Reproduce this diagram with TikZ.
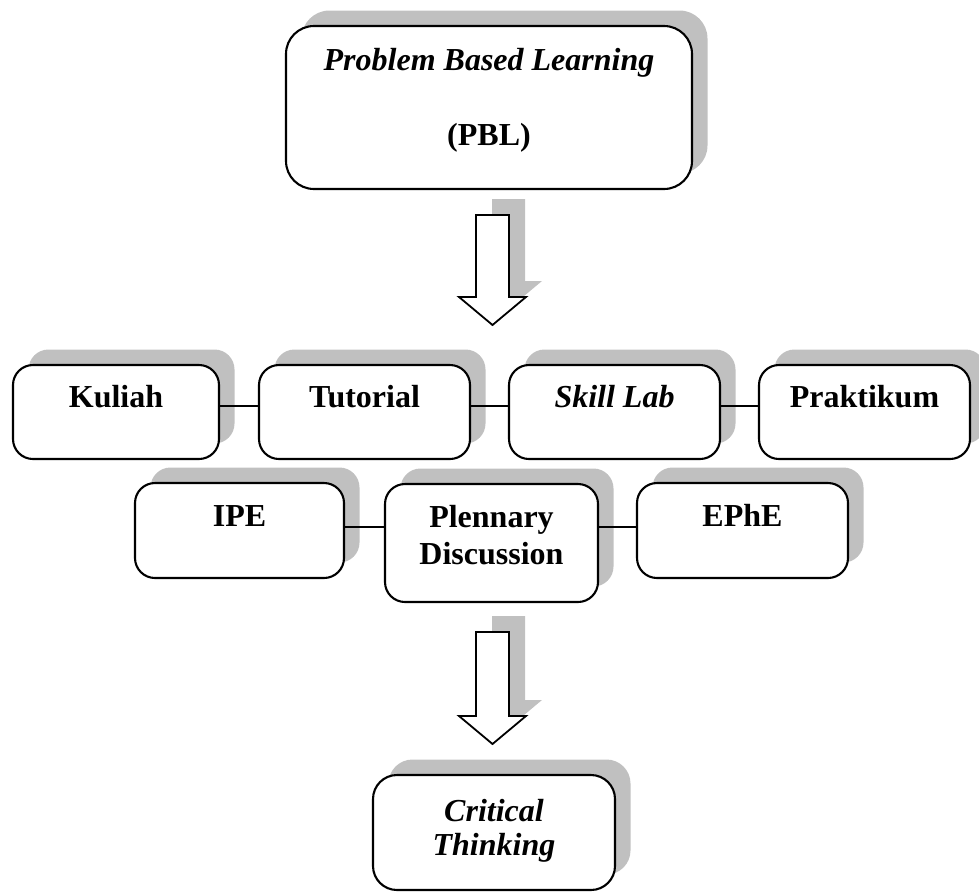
\documentclass[tikz,border=0pt]{standalone}
\usepackage{fontspec}
\setmainfont{Liberation Serif}
\usetikzlibrary{shadows}
\definecolor{shgray}{RGB}{192,192,192}
\tikzset{
  box/.style={draw=black, line width=2.1pt, fill=white, rounded corners=20pt,
    inner sep=0pt,
    drop shadow={shadow xshift=15.5pt, shadow yshift=15.5pt, fill=shgray, opacity=1}},
  lbl/.style={anchor=base, inner sep=0pt, font=\fontsize{32}{38}\selectfont\bfseries},
  ilbl/.style={lbl, font=\fontsize{32}{38}\selectfont\bfseries\itshape},
  link/.style={draw=black, line width=2.1pt},
  pics/barrow/.style={code={
    \fill[shgray, xshift=16pt, yshift=16pt]
      (-16.5,0) -- (16.5,0) -- (16.5,#1) -- (33.5,#1) -- (0,#1+28) -- (-33.5,#1) -- (-16.5,#1) -- cycle;
    \draw[line width=1.8pt, fill=white, line join=miter]
      (-16.5,0) -- (16.5,0) -- (16.5,#1) -- (33.5,#1) -- (0,#1+28) -- (-33.5,#1) -- (-16.5,#1) -- cycle;
  }}
}
\begin{document}
\begin{tikzpicture}[x=1pt, y=-1pt]
\useasboundingbox (0,0) rectangle (979,892);
\clip (0,0) rectangle (979,892);

% top box
\node[box, rounded corners=28pt, minimum width=406pt, minimum height=163pt] (pbl) at (489,107.5) {};
\node[ilbl] (pblt1) at ([yshift=-46pt]pbl.north) {Problem Based Learning};
\node[lbl] (pblt2) at ([yshift=-121pt]pbl.north) {(PBL)};

% arrow 1
\pic at (492.5,215) {barrow=82};

% row 1
\node[box, minimum width=206pt, minimum height=94pt] (kul) at (116,412) {};
\node[box, minimum width=211pt, minimum height=94pt] (tut) at (364.5,412) {};
\node[box, minimum width=211pt, minimum height=94pt] (skl) at (614.5,412) {};
\node[box, minimum width=211pt, minimum height=94pt] (prk) at (864.5,412) {};
\node[lbl] (kult) at ([yshift=-44pt]kul.north) {Kuliah};
\node[lbl] (tutt) at ([yshift=-44pt]tut.north) {Tutorial};
\node[ilbl] (sklt) at ([yshift=-44pt]skl.north) {Skill Lab};
\node[lbl] (prkt) at ([yshift=-44pt]prk.north) {Praktikum};
\draw[link] ([yshift=6pt]kul.east) -- ([yshift=6pt]tut.west);
\draw[link] ([yshift=6pt]tut.east) -- ([yshift=6pt]skl.west);
\draw[link] ([yshift=6pt]skl.east) -- ([yshift=6pt]prk.west);

% row 2
\node[box, minimum width=209pt, minimum height=95pt] (ipe) at (239.5,530.5) {};
\node[box, minimum width=213pt, minimum height=118pt] (pd) at (491.5,543) {};
\node[box, minimum width=211pt, minimum height=95pt] (ephe) at (742.5,530.5) {};
\node[lbl] (ipet) at ([yshift=-45pt]ipe.north) {IPE};
\node[lbl] (pdt1) at ([yshift=-45pt]pd.north) {Plennary};
\node[lbl] (pdt2) at ([yshift=-82pt]pd.north) {Discussion};
\node[lbl] (ephet) at ([yshift=-45pt]ephe.north) {EPhE};
\draw[link] ([yshift=3.5pt]ipe.east) -- ([yshift=3.5pt]ipe.east -| pd.west);
\draw[link] ([yshift=3.5pt]ephe.west) -- ([yshift=3.5pt]ephe.west -| pd.east);

% arrow 2
\pic at (492.5,632) {barrow=84};

% bottom box
\node[box, rounded corners=24pt, minimum width=242pt, minimum height=115pt] (ct) at (494,832.5) {};
\node[ilbl] (ctt1) at ([yshift=-48pt]ct.north) {Critical};
\node[ilbl] (ctt2) at ([yshift=-82pt]ct.north) {Thinking};
\end{tikzpicture}
\end{document}
